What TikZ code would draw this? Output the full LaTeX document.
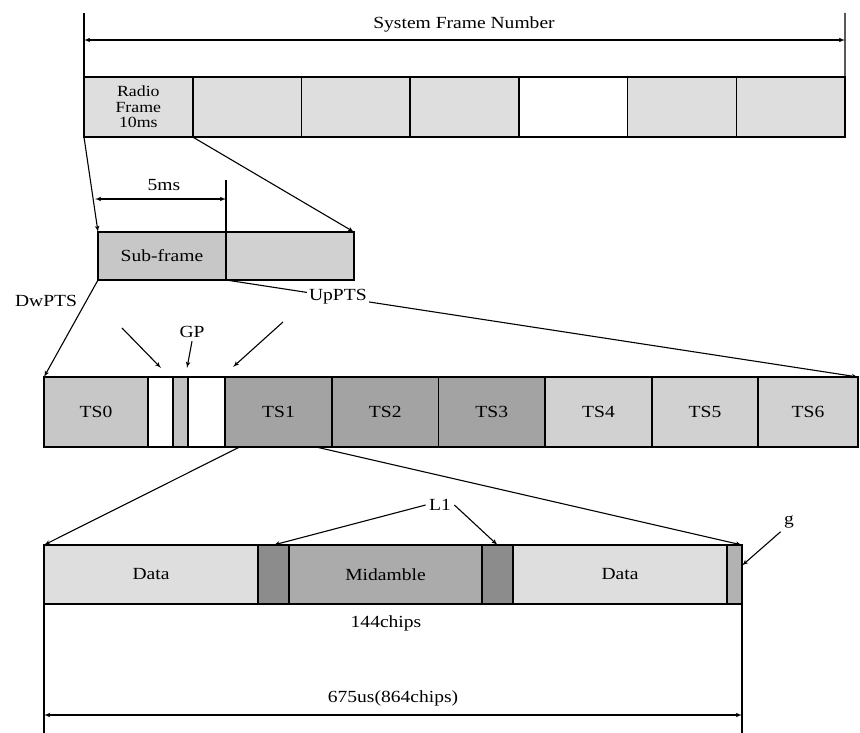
\documentclass[tikz,border=0pt]{standalone}
\usepackage{fontspec}
\setmainfont[FakeStretch=1.15]{Liberation Serif}
\usepackage{tikz}
\usetikzlibrary{positioning,arrows,calc}
\tikzset{
    cell/.style = {
        draw,
        shape=rectangle,
        anchor=north west,
        inner sep=0pt,
        outer sep=0pt,
        line width=1.6pt
    },
    radio/.style = {
        cell,
        minimum width=108.7pt,
        minimum height=60pt
    },
    sub/.style = {
        cell,
        minimum width=128pt,
        minimum height=48pt
    },
    slot/.style = {
        cell,
        minimum height=70pt
    },
    burst/.style = {
        cell,
        minimum height=59pt
    },
    wire/.style = {
        line width=1.1pt
    },
    >=latex',
}

\begin{document}
\begin{tikzpicture}[x=1pt, y=-1pt, font=\fontsize{17}{19}\selectfont]
                \useasboundingbox (0,0) rectangle (860,733);

                % system frame number
                \node[radio, fill=black!13, align=center, font=\fontsize{15.5}{15.5}\selectfont] (rf1) at (84,77) {Radio\\Frame\\10ms};
                \node[radio, fill=black!13] (rf2) at (192.7,77) {};
                \node[radio, fill=black!13] (rf3) at (301.4,77) {};
                \node[radio, fill=black!13] (rf4) at (410.1,77) {};
                \node[radio, fill=white] (rf5) at (518.9,77) {};
                \node[radio, fill=black!13] (rf6) at (627.6,77) {};
                \node[radio, fill=black!13] (rf7) at (736.3,77) {};
                \coordinate (sfntl) at (84,13);
                \coordinate (sfntr) at (845,13);
                \coordinate (sfnal) at (84,40);
                \coordinate (sfnar) at (845,40);
                \node (sfnlab) at (464,24) {System Frame Number};
                \path[draw, wire] (rf1.north west) -- (sfntl);
                \path[draw, wire] (rf7.north east) -- (sfntr);
                \path[draw, wire, <->] (sfnal) -- (sfnar);

                % sub-frames
                \node[sub, fill=black!22] (sf1) at (98,232) {Sub-frame};
                \node[sub, fill=black!18] (sf2) at (226,232) {};
                \path[draw, wire, ->] (rf1.south west) -- (sf1.north west);
                \path[draw, wire, ->] (rf1.south east) -- (sf2.north east);
                \coordinate (fivetop) at (226,180);
                \coordinate (fivel) at (95,199);
                \coordinate (fiver) at (226,199);
                \node (fivelab) at (164,185) {5ms};
                \path[draw, wire] (sf1.north east) -- (fivetop);
                \path[draw, wire, <->] (fivel) -- (fiver);

                % time slots
                \node[slot, fill=black!22, minimum width=104pt] (ts0) at (44,377) {TS0};
                \node[slot, fill=white, minimum width=25pt] (dwpts) at (148,377) {};
                \node[slot, fill=black!24, minimum width=15pt] (gp) at (173,377) {};
                \node[slot, fill=white, minimum width=37pt] (uppts) at (188,377) {};
                \node[slot, fill=black!36, minimum width=107pt] (ts1) at (225,377) {TS1};
                \node[slot, fill=black!36, minimum width=106.5pt] (ts2) at (332,377) {TS2};
                \node[slot, fill=black!36, minimum width=106.5pt] (ts3) at (438.5,377) {TS3};
                \node[slot, fill=black!18, minimum width=107pt] (ts4) at (545,377) {TS4};
                \node[slot, fill=black!18, minimum width=106pt] (ts5) at (652,377) {TS5};
                \node[slot, fill=black!18, minimum width=100pt] (ts6) at (758,377) {TS6};

                \node (dwlab) at (46,301) {DwPTS};
                \path[draw, wire, ->] (sf1.south west) -- (ts0.north west);
                \path[draw, wire, ->] (sf1.south east) -- node[pos=0.177, fill=white, inner sep=2pt] (uplab) {UpPTS} (ts6.north east);

                \coordinate (dwtail) at (122,328);
                \coordinate (dwtip) at (161,368);
                \node (gplab) at (192,332) {GP};
                \coordinate (gptip) at (187,368);
                \coordinate (uptail) at (283,322);
                \coordinate (uptip) at (233,367);
                \path[draw, wire, ->] (dwtail) -- (dwtip);
                \path[draw, wire, ->] (gplab.south) -- (gptip);
                \path[draw, wire, ->] (uptail) -- (uptip);

                % burst structure
                \node[burst, fill=black!13, minimum width=214pt] (data1) at (44,545) {Data};
                \node[burst, fill=black!45, minimum width=31pt] (l1a) at (258,545) {};
                \node[burst, fill=black!33, minimum width=193pt] (mid) at (289,545) {Midamble};
                \node[burst, fill=black!45, minimum width=31pt] (l1b) at (482,545) {};
                \node[burst, fill=black!13, minimum width=214pt] (data2) at (513,545) {Data};
                \node[burst, fill=black!30, minimum width=15pt] (guard) at (727,545) {};

                \path[draw, wire, ->] (ts1.222) -- (data1.north west);
                \path[draw, wire, ->] (ts1.317) -- (guard.north east);

                \node (l1lab) at (440,505) {L1};
                \path[draw, wire, ->] (l1lab.west) -- (l1a.north);
                \path[draw, wire, ->] (l1lab.east) -- (l1b.north);
                \node (glab) at (789,522) {g};
                \path[draw, wire, ->] (glab.south west) -- (guard.50);

                \node (chips) at (386,623) {144chips};
                \node (burstlen) at (393,698) {675us(864chips)};
                \coordinate (botl) at (44,733);
                \coordinate (botr) at (742,733);
                \coordinate (arrl) at (44,715);
                \coordinate (arrr) at (742,715);
                \path[draw, wire] (data1.south west) -- (botl);
                \path[draw, wire] (guard.south east) -- (botr);
                \path[draw, wire, <->] (arrl) -- (arrr);
            \end{tikzpicture}
\end{document}
